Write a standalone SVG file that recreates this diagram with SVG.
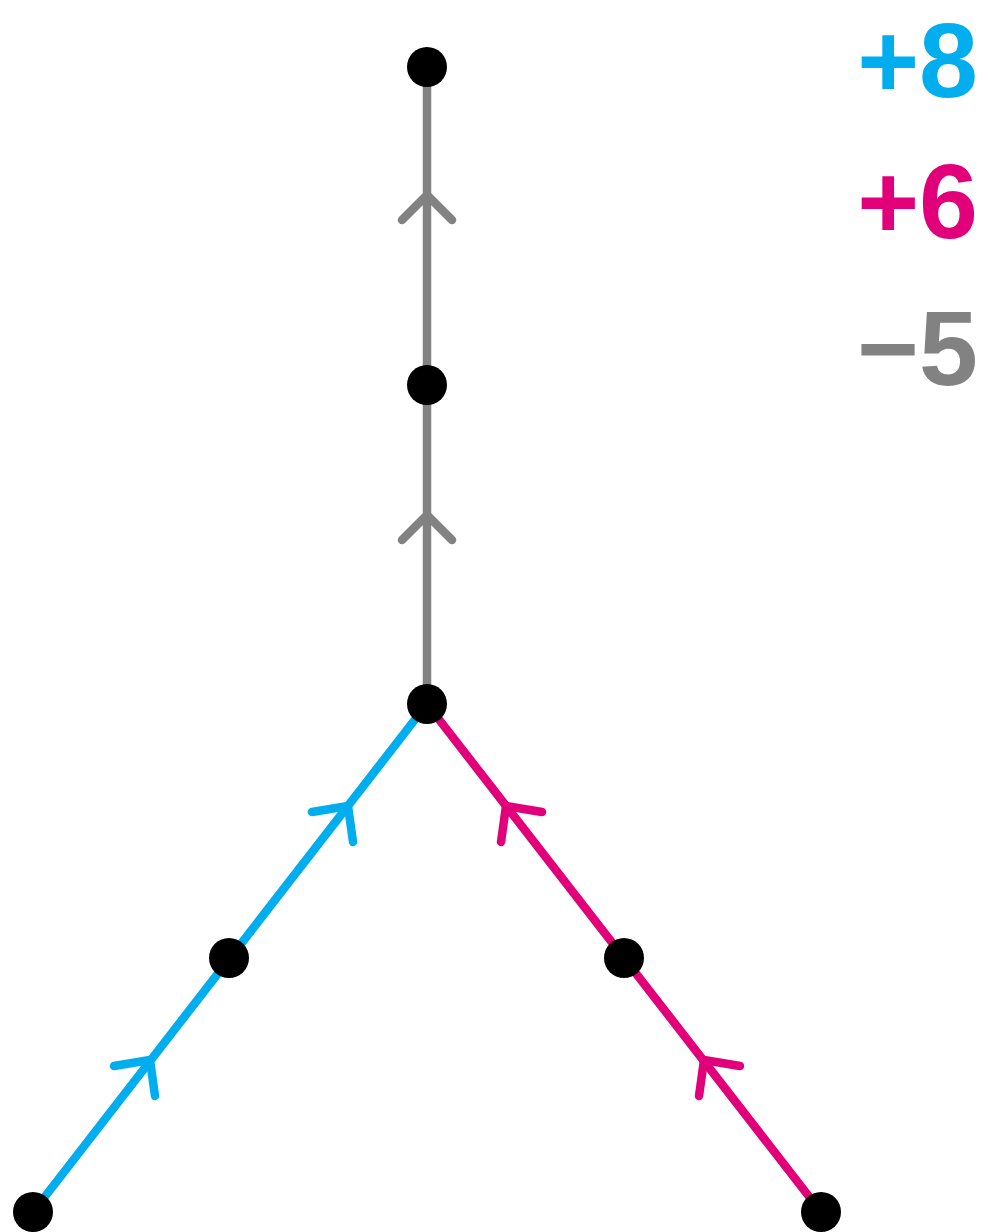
<svg xmlns="http://www.w3.org/2000/svg" width="990" height="1232" viewBox="0 0 990 1232">
<style>
.e{fill:none;stroke-width:8.5;stroke-linecap:round;stroke-linejoin:round}
.g{stroke:#828282}
.b{stroke:#00AEEF}
.p{stroke:#E2007A}
.n{fill:#000}
.t{font-family:"Comic Sans MS","Liberation Sans",sans-serif;font-weight:bold;font-size:106px;text-anchor:end}
</style>
<rect width="990" height="1232" fill="#fff"/>
<g id="connectors">
<line class="e g" x1="427" y1="67" x2="427" y2="704"/>
<polyline class="e g" points="402,220 427,195 452,220"/>
<polyline class="e g" points="402,540 427,515 452,540"/>
<line class="e b" x1="427" y1="704" x2="33" y2="1212"/>
<polyline class="e b" points="312,812 348,806 353,842"/>
<polyline class="e b" points="114,1066 150,1060 155,1096"/>
<line class="e p" x1="427" y1="704" x2="821" y2="1212"/>
<polyline class="e p" points="542,812 506,806 501,842"/>
<polyline class="e p" points="740,1066 704,1060 699,1096"/>
</g>
<g id="n1"><circle class="n" cx="427" cy="67" r="20"/></g>
<g id="n2"><circle class="n" cx="427" cy="385" r="20"/></g>
<g id="n3"><circle class="n" cx="427" cy="704" r="20"/></g>
<g id="n4"><circle class="n" cx="229" cy="958" r="20"/></g>
<g id="n5"><circle class="n" cx="33" cy="1212" r="20"/></g>
<g id="n6"><circle class="n" cx="624" cy="958" r="20"/></g>
<g id="n7"><circle class="n" cx="821" cy="1212" r="20"/></g>
<g id="labels">
<text class="t" x="978" y="97" fill="#00AEEF">+8</text>
<text class="t" x="978" y="238" fill="#E2007A">+6</text>
<text class="t" x="978" y="385" fill="#828282">−5</text>
</g>
</svg>
